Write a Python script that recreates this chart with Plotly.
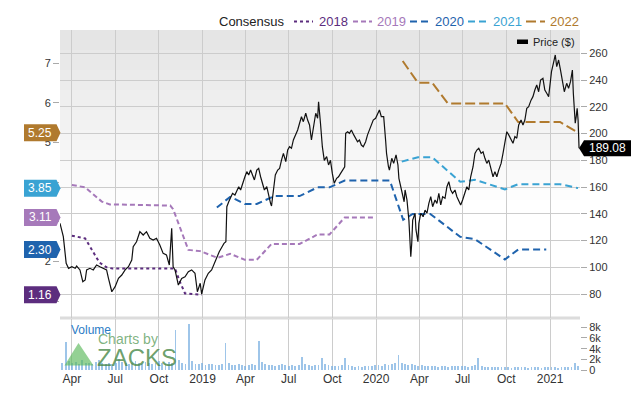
import plotly.graph_objects as go
import pandas as pd

# ---------------- data ----------------
price_dates = [
    "2018-03-07","2018-03-14","2018-03-20","2018-03-25","2018-04-01","2018-04-08","2018-04-11","2018-04-18",
    "2018-04-24","2018-04-29","2018-05-02","2018-05-09","2018-05-16","2018-05-23","2018-05-30","2018-06-06",
    "2018-06-13","2018-06-17","2018-06-24","2018-07-01","2018-07-08","2018-07-15","2018-07-22","2018-07-29",
    "2018-08-05","2018-08-08","2018-08-15","2018-08-22","2018-08-29","2018-09-05","2018-09-12","2018-09-19",
    "2018-09-26","2018-10-03","2018-10-10","2018-10-17","2018-10-23","2018-10-28","2018-10-31","2018-11-04",
    "2018-11-11","2018-11-18","2018-11-25","2018-12-02","2018-12-09","2018-12-16","2018-12-21","2018-12-27",
    "2018-12-30",
    "2019-01-06","2019-01-13","2019-01-20","2019-01-27","2019-02-05","2019-02-11","2019-02-15","2019-02-19",
    "2019-02-21","2019-02-25","2019-03-01","2019-03-05","2019-03-10","2019-03-14","2019-03-18","2019-03-22",
    "2019-03-26","2019-03-31","2019-04-04","2019-04-08","2019-04-12","2019-04-16","2019-04-20","2019-04-25",
    "2019-04-29","2019-05-03","2019-05-07","2019-05-11","2019-05-16","2019-05-20","2019-05-24","2019-05-26",
    "2019-05-30","2019-06-03","2019-06-08","2019-06-12","2019-06-16","2019-06-20","2019-06-25","2019-06-29",
    "2019-07-03","2019-07-07","2019-07-11","2019-07-16","2019-07-20","2019-07-24","2019-07-28","2019-08-01",
    "2019-08-06","2019-08-10","2019-08-14","2019-08-18","2019-08-22","2019-08-27","2019-08-31","2019-09-02",
    "2019-09-06","2019-09-10","2019-09-14","2019-09-19","2019-09-23","2019-09-27","2019-10-01","2019-10-05",
    "2019-10-10","2019-10-14","2019-10-18","2019-10-22","2019-10-27","2019-10-29","2019-11-02","2019-11-06",
    "2019-11-10","2019-11-15","2019-11-19","2019-11-23","2019-11-27","2019-12-01","2019-12-05","2019-12-10",
    "2019-12-14","2019-12-18","2019-12-22","2019-12-26","2019-12-31",
    "2020-01-04","2020-01-08","2020-01-12","2020-01-17","2020-01-21","2020-01-23","2020-01-27","2020-01-29",
    "2020-02-03","2020-02-07","2020-02-12","2020-02-16","2020-02-18","2020-02-22","2020-02-25","2020-02-29",
    "2020-03-02","2020-03-06","2020-03-10","2020-03-12","2020-03-14","2020-03-16","2020-03-18","2020-03-23",
    "2020-03-25","2020-03-29","2020-03-31","2020-04-04","2020-04-09","2020-04-13","2020-04-17","2020-04-21",
    "2020-04-25","2020-04-29","2020-05-04","2020-05-08","2020-05-12","2020-05-16","2020-05-20","2020-05-25",
    "2020-05-29","2020-06-02","2020-06-06","2020-06-10","2020-06-15","2020-06-19","2020-06-23","2020-06-27",
    "2020-07-01","2020-07-06","2020-07-10","2020-07-14","2020-07-18","2020-07-23","2020-07-27","2020-07-31",
    "2020-08-04","2020-08-09","2020-08-13","2020-08-17","2020-08-21","2020-08-25","2020-08-30","2020-09-03",
    "2020-09-07","2020-09-11","2020-09-15","2020-09-20","2020-09-24","2020-09-28","2020-10-02","2020-10-06",
    "2020-10-11","2020-10-15","2020-10-19","2020-10-23","2020-10-27","2020-11-01","2020-11-05","2020-11-09",
    "2020-11-13","2020-11-17","2020-11-22","2020-11-26","2020-11-30","2020-12-04","2020-12-08","2020-12-12",
    "2020-12-17","2020-12-21","2020-12-25","2020-12-29",
    "2021-01-02","2021-01-04","2021-01-08","2021-01-12","2021-01-15","2021-01-19","2021-01-23","2021-01-27",
    "2021-01-31","2021-02-05","2021-02-09","2021-02-13","2021-02-17","2021-02-19","2021-02-21","2021-02-23",
    "2021-02-25","2021-02-27","2021-03-01","2021-03-03",
]
price_values = [
    132.9,122.9,103.0,99.2,100.4,99.2,100.9,98.0,
    89.2,90.5,98.0,99.2,98.0,101.7,100.4,99.2,
    98.0,91.7,81.7,85.5,91.7,94.2,98.0,100.4,
    105.4,115.4,119.1,126.6,124.1,126.6,121.7,120.4,
    121.7,116.6,110.4,109.2,101.7,129.1,100.4,98.0,
    86.7,91.7,92.9,96.7,98.0,95.5,81.7,88.0,
    80.0,
    90.5,95.5,98.0,104.2,111.6,115.4,117.9,119.1,
    145.3,149.0,151.6,155.3,154.0,157.8,160.2,157.8,
    162.8,167.7,171.5,169.0,172.7,169.0,165.3,172.7,
    174.0,167.7,162.8,157.8,160.3,152.8,147.8,145.8,
    157.8,169.0,172.7,174.0,180.2,185.2,179.0,187.7,
    190.2,189.0,195.2,199.0,202.7,207.7,212.6,208.9,
    215.2,210.1,206.4,195.2,205.1,215.2,211.4,223.8,
    207.7,190.0,180.0,182.7,176.5,180.0,170.0,162.8,
    166.5,167.7,170.0,172.7,175.2,200.2,201.4,200.2,
    202.7,199.0,196.4,193.9,195.2,191.4,190.2,193.9,
    199.0,202.7,206.4,210.1,211.4,
    215.2,217.6,212.6,212.6,195.2,185.2,175.2,172.7,
    181.5,177.7,184.0,176.5,166.5,160.2,154.0,149.0,
    157.8,150.3,135.3,120.4,107.9,117.9,135.3,140.4,
    127.9,119.1,132.9,140.4,137.8,142.8,140.4,147.8,
    152.8,145.3,150.3,147.8,155.3,146.6,152.8,151.6,
    160.2,164.0,157.8,155.3,157.8,152.8,149.0,146.6,
    150.3,155.3,160.2,157.8,167.7,175.2,185.2,187.7,
    189.0,185.2,186.4,181.5,177.7,180.2,172.7,167.7,
    171.5,167.7,172.7,177.7,185.2,192.7,201.4,199.0,
    195.2,192.7,197.7,196.5,206.4,210.1,206.4,210.1,
    218.9,220.1,225.0,227.6,232.6,236.3,231.3,240.0,
    241.3,232.6,230.1,227.6,
    240.0,246.3,252.5,258.8,250.0,255.0,247.5,240.0,
    231.3,237.6,233.8,238.8,247.5,230.0,215.2,207.7,
    212.6,218.9,210.0,189.08,
]

eps_2018_dates = ["2018-04-01","2018-04-29","2018-05-29","2018-06-13","2018-06-25","2018-11-04","2018-11-14","2018-11-25","2018-12-30"]
eps_2018 = [2.65, 2.58, 1.97, 1.85, 1.82, 1.82, 1.49, 1.19, 1.16]

eps_2019_dates = ["2018-04-01","2018-04-29","2018-06-03","2018-06-20","2018-10-25","2018-10-31","2018-12-02","2018-12-27",
                  "2019-02-01","2019-02-28","2019-03-31","2019-04-25","2019-05-26","2019-07-24","2019-08-31","2019-09-25",
                  "2019-10-27","2019-12-29"]
eps_2019 = [3.93, 3.87, 3.51, 3.44, 3.41, 3.32, 2.29, 2.26, 2.09, 2.19, 2.04, 2.04, 2.44, 2.44, 2.68, 2.68, 3.11, 3.11]

eps_2020_dates = ["2019-01-31","2019-02-28","2019-03-21","2019-03-31","2019-04-25","2019-06-01","2019-07-24","2019-08-31",
                  "2019-09-25","2019-10-27","2020-01-30","2020-02-27","2020-03-18","2020-04-24","2020-06-26","2020-07-27",
                  "2020-09-28","2020-10-26","2020-12-24"]
eps_2020 = [3.36, 3.63, 3.51, 3.45, 3.45, 3.65, 3.65, 3.87, 3.87, 4.04, 4.04, 3.05, 3.20, 3.20, 2.62, 2.56, 2.05, 2.30, 2.30]

eps_2021_dates = ["2020-02-24","2020-03-29","2020-04-28","2020-06-26","2020-07-27","2020-09-28","2020-10-26","2021-01-22","2021-03-01"]
eps_2021 = [4.52, 4.63, 4.63, 4.01, 4.06, 3.82, 3.95, 3.95, 3.85]

eps_2022_dates = ["2020-02-26","2020-03-29","2020-04-28","2020-05-31","2020-09-28","2020-10-26","2021-01-22","2021-03-01"]
eps_2022 = [7.06, 6.51, 6.51, 5.99, 5.99, 5.52, 5.52, 5.25]

# weekly volume (thousands), weeks starting 2018-03-12
volume_start = "2018-03-12"
volume_k = [
    1.4, 5.3, 1.6, 1.3, 1.5, 1.2, 1.8, 1.4, 1.3, 1.2,
    1.5, 1.9, 1.3, 1.2, 1.4, 1.1, 1.3, 2.0, 1.5, 1.3,
    1.2, 1.4, 1.6, 1.3, 1.2, 1.5, 1.3, 1.1, 1.4, 1.6,
    1.3, 1.2, 1.5, 1.4, 7.5, 1.8, 1.3, 1.2, 8.7, 1.6,
    1.2, 1.1, 1.3, 1.0, 1.2, 1.1, 0.9, 1.0, 1.2, 5.0,
    1.3, 1.0, 0.9, 1.1, 1.0, 0.8, 0.9, 1.2, 1.0, 5.4,
    1.5, 1.1, 0.9, 1.0, 0.8, 0.9, 1.1, 1.0, 0.8, 0.9,
    0.8, 1.0, 2.4, 1.1, 0.9, 0.8, 1.0, 0.9, 2.2, 1.2,
    0.9, 0.8, 0.7, 0.8, 0.9, 2.3, 0.9, 0.7, 0.6, 0.7,
    0.6, 0.7, 0.8, 0.7, 0.9, 1.0, 0.8, 1.1, 0.9, 1.2,
    1.3, 2.9, 1.4, 1.2, 1.0, 1.1, 0.9, 0.8, 0.9, 0.8,
    0.7, 0.8, 0.7, 0.6, 0.7, 0.8, 0.6, 0.7, 0.8, 0.7,
    0.7, 0.8, 0.6, 0.7, 0.9, 2.3, 0.8, 0.6, 0.5, 0.6,
    0.5, 0.6, 0.5, 0.6, 0.5, 0.4, 0.5, 0.6, 0.5, 0.5,
    0.4, 0.5, 0.6, 0.5, 0.4, 0.5, 0.5, 0.6, 0.5, 0.4,
    0.5, 0.6, 0.5, 0.6, 1.25, 0.7,
]

series_years = ["2018", "2019", "2020", "2021", "2022"]
series_colors = ["#5c2d7e", "#a679ba", "#1f63ad", "#3aa3d3", "#b07a2e"]
series_dashes = ["3px,3px", "5px,3px", "7px,4px", "7px,4px", "10px,4px"]
series_dates = [eps_2018_dates, eps_2019_dates, eps_2020_dates, eps_2021_dates, eps_2022_dates]
series_values = [eps_2018, eps_2019, eps_2020, eps_2021, eps_2022]

last_price = 189.08

x_tick_dates = ["2018-04-01","2018-07-01","2018-10-01","2019-01-01","2019-04-01","2019-07-01",
                "2019-10-01","2020-01-01","2020-04-01","2020-07-01","2020-10-01","2021-01-01"]
x_tick_labels = ["Apr","Jul","Oct","2019","Apr","Jul","Oct","2020","Apr","Jul","Oct","2021"]
price_ticks = [80, 100, 120, 140, 160, 180, 200, 220, 240, 260]
eps_ticks = [1, 2, 3, 4, 5, 6, 7]
eps_tick_labels = ["", "2", "", "", "5", "6", "7"]   # 1, 3, 4 sit behind the value tags
vol_ticks = [0, 2000, 4000, 6000, 8000]
vol_tick_labels = ["0", "2k", "4k", "6k", "8k"]

# ---------------- layout helpers ----------------
W, H = 640, 405
L, R, T, B = 60, 60, 30, 35
PW, PH = W - L - R, H - T - B


def px(x):
    return (x - L) / PW


def py(y):
    return (H - B - y) / PH


FONT = "Arial, Liberation Sans, Helvetica, sans-serif"

fig = go.Figure()

vol_dates = pd.date_range(volume_start, periods=len(volume_k), freq="7D")
fig.add_trace(go.Bar(
    x=vol_dates, y=[v * 1000 for v in volume_k], xaxis="x", yaxis="y3",
    marker=dict(color="rgba(125,178,225,0.75)", line=dict(width=0)),
    width=7 * 86400000 * 0.55, hoverinfo="skip",
))

for yr, col, dsh, d, v in zip(series_years, series_colors, series_dashes, series_dates, series_values):
    fig.add_trace(go.Scatter(
        x=d, y=v, xaxis="x", yaxis="y", mode="lines", name=yr,
        line=dict(color=col, width=2, dash=dsh),
    ))

fig.add_trace(go.Scatter(
    x=price_dates, y=price_values, xaxis="x", yaxis="y2", mode="lines", name="Price ($)",
    line=dict(color="#111111", width=1.2),
))

shapes = []
# gradient background in the price panel
n_bands = 18
for k in range(n_bands):
    y0 = 30 + k * 10
    c = int(229 + (255 - 229) * k / (n_bands - 1))
    shapes.append(dict(type="rect", xref="paper", yref="paper", x0=0, x1=1,
                       y0=py(y0 + 10), y1=py(y0), fillcolor=f"rgb({c},{c},{c})",
                       line=dict(width=0), layer="below"))
# separator between price and volume panels
shapes.append(dict(type="line", xref="paper", yref="paper", x0=0, x1=1, y0=py(318), y1=py(318),
                   line=dict(color="#dcdcdc", width=3), layer="below"))

annotations = []
# EPS tags on the left
h_eps = 8.5 / 39.6
for col, v in zip(series_colors, series_values):
    val = v[-1]
    path = (f"M {px(24)},{val + h_eps} L {px(56.5)},{val + h_eps} L {px(60.5)},{val} "
            f"L {px(56.5)},{val - h_eps} L {px(24)},{val - h_eps} Z")
    shapes.append(dict(type="path", xref="paper", yref="y", path=path, fillcolor=col,
                       line=dict(width=0), layer="above"))
    annotations.append(dict(x=px(40), y=val, xref="paper", yref="y", text=f"{val:.2f}",
                            showarrow=False, xanchor="center", yanchor="middle",
                            font=dict(color="white", size=12, family=FONT)))

# last price tag on the right
h_p = 8 / 1.337
path = (f"M {px(579)},{last_price} L {px(584)},{last_price + h_p} L {px(631)},{last_price + h_p} "
        f"L {px(631)},{last_price - h_p} L {px(584)},{last_price - h_p} Z")
shapes.append(dict(type="path", xref="paper", yref="y2", path=path, fillcolor="black",
                   line=dict(width=0), layer="above"))
annotations.append(dict(x=px(607), y=last_price, xref="paper", yref="y2", text=f"{last_price:.2f}",
                        showarrow=False, xanchor="center", yanchor="middle",
                        font=dict(color="white", size=12, family=FONT)))

# manual legend at the top
annotations.append(dict(x=px(217), y=py(21), xref="paper", yref="paper", text="Consensus",
                        showarrow=False, xanchor="left", yanchor="middle",
                        font=dict(color="#222222", size=13, family=FONT)))
legend_x = [(294, 317), (353, 375), (410, 433), (468, 491), (526, 548)]
for (lx, tx), yr, col, dsh in zip(legend_x, series_years, series_colors, series_dashes):
    shapes.append(dict(type="line", xref="paper", yref="paper", x0=px(lx), x1=px(lx + 19),
                       y0=py(21.5), y1=py(21.5), line=dict(color=col, width=2, dash=dsh)))
    annotations.append(dict(x=px(tx), y=py(21), xref="paper", yref="paper", text=yr,
                            showarrow=False, xanchor="left", yanchor="middle",
                            font=dict(color=col, size=13, family=FONT)))

# price legend inside the plot
shapes.append(dict(type="rect", xref="paper", yref="paper", x0=px(517), x1=px(528),
                   y0=py(44), y1=py(39.5), fillcolor="black", line=dict(width=0)))
annotations.append(dict(x=px(531), y=py(42), xref="paper", yref="paper", text="Price ($)",
                        showarrow=False, xanchor="left", yanchor="middle",
                        font=dict(color="#222222", size=11, family=FONT)))

# volume label and watermark
annotations.append(dict(x=px(69), y=py(330), xref="paper", yref="paper", text="Volume",
                        showarrow=False, xanchor="left", yanchor="middle",
                        font=dict(color="#2b7cc6", size=12, family=FONT)))
annotations.append(dict(x=px(96), y=py(338.5), xref="paper", yref="paper", text="Charts by",
                        showarrow=False, xanchor="left", yanchor="middle",
                        font=dict(color="rgba(95,160,95,0.8)", size=14, family=FONT)))
annotations.append(dict(x=px(95), y=py(357), xref="paper", yref="paper", text="ZACKS",
                        showarrow=False, xanchor="left", yanchor="middle",
                        font=dict(color="rgba(70,135,70,0.8)", size=24, family=FONT)))
tri = f"M {px(78.5)},{py(343)} L {px(93.5)},{py(365.5)} L {px(64.5)},{py(365.5)} Z"
shapes.append(dict(type="path", xref="paper", yref="paper", path=tri,
                   fillcolor="rgba(90,185,90,0.65)", line=dict(width=0)))

fig.update_layout(
    width=W, height=H,
    margin=dict(l=L, r=R, t=T, b=B, pad=0),
    paper_bgcolor="white", plot_bgcolor="white",
    showlegend=False,
    font=dict(family=FONT, size=11, color="#333333"),
    xaxis=dict(type="date", range=["2018-03-07", "2021-03-05"], domain=[0, 1], anchor="y3",
               tickmode="array", tickvals=x_tick_dates, ticktext=x_tick_labels,
               showgrid=True, gridcolor="#cccccc", gridwidth=1, ticks="", showline=False,
               zeroline=False, tickfont=dict(size=12, color="#333333")),
    yaxis=dict(domain=[py(318), 1], range=[0.571, 7.843], side="left", anchor="x",
               tickmode="array", tickvals=eps_ticks, ticktext=eps_tick_labels,
               ticks="outside", ticklen=6, tickcolor="#aaaaaa",
               showgrid=False, zeroline=False, showline=False,
               tickfont=dict(size=11, color="#333333")),
    yaxis2=dict(overlaying="y", side="right", anchor="x", range=[62.05, 277.46],
                tickmode="array", tickvals=price_ticks, ticks="outside", ticklen=6, tickcolor="#aaaaaa",
                showgrid=True, gridcolor="#cccccc", gridwidth=1, zeroline=False, showline=False,
                tickfont=dict(size=11, color="#333333")),
    yaxis3=dict(domain=[0, py(319)], range=[0, 9555], side="right", anchor="x",
                tickmode="array", tickvals=vol_ticks, ticktext=vol_tick_labels,
                ticks="outside", ticklen=6, tickcolor="#aaaaaa",
                showgrid=False, zeroline=False, showline=False,
                tickfont=dict(size=11, color="#333333")),
    bargap=0,
    shapes=shapes,
    annotations=annotations,
)

fig.write_html("out.html")
